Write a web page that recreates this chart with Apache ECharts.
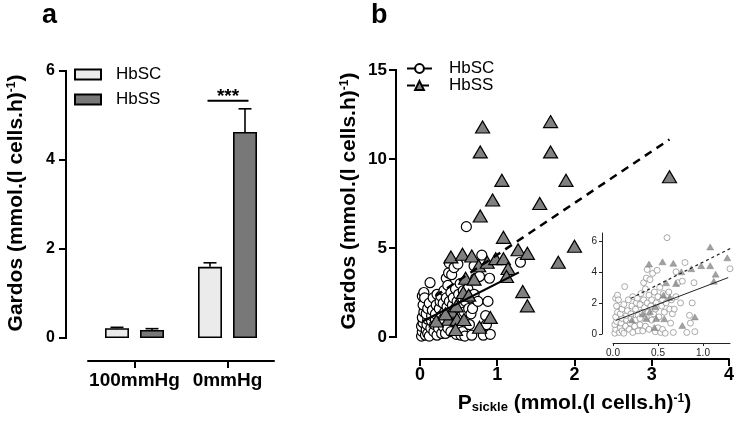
<!DOCTYPE html>
<html><head><meta charset="utf-8">
<script src="https://cdn.jsdelivr.net/npm/echarts@6/dist/echarts.min.js"></script>
<style>html,body{margin:0;padding:0;background:#fff}#c{width:737px;height:425px}</style>
</head><body><div id="c"></div>
<script>
// ---------- Panel a data ----------
const barCategories = ['100mmHg', '0mmHg'];
const hbscMean = [0.22, 1.60];
const hbscErr = [0.02, 0.09];
const hbssMean = [0.18, 4.63];
const hbssErr = [0.03, 0.52];
const sigLevel = 5.33;           // height of the *** bracket over 0mmHg
const sigText = '***';
const barYTicks = [0, 2, 4, 6];

// ---------- Panel b data ----------
const scatterHbSC = [
  [0.02,0.05],[0.03,0.3],[0.02,0.6],[0.04,0.8],[0.03,1.1],[0.05,1.4],[0.04,1.8],[0.03,2.3],[0.05,2.5],[0.06,2.2],
  [0.07,0.1],[0.08,0.4],[0.1,0.2],[0.09,0.7],[0.1,1.0],[0.08,1.3],[0.1,1.6],[0.12,1.9],[0.13,3.05],[0.12,0.05],
  [0.14,0.5],[0.15,0.9],[0.15,1.2],[0.16,1.5],[0.17,2.2],[0.18,0.3],[0.19,0.7],[0.2,1.0],[0.2,1.3],[0.21,1.8],
  [0.22,2.4],[0.22,0.1],[0.24,0.5],[0.25,0.9],[0.25,1.6],[0.26,2.0],[0.27,2.3],[0.28,0.2],[0.28,1.2],[0.3,0.6],
  [0.3,1.0],[0.3,1.9],[0.31,2.6],[0.32,1.4],[0.33,0.2],[0.34,2.2],[0.34,3.3],[0.35,1.7],[0.36,0.5],[0.36,2.9],
  [0.37,3.6],[0.37,1.1],[0.38,2.0],[0.38,4.15],[0.39,1.4],[0.4,0.3],[0.4,2.5],[0.41,3.5],[0.42,1.8],[0.43,0.9],
  [0.43,2.2],[0.44,3.9],[0.45,1.3],[0.46,2.7],[0.47,0.15],[0.47,1.6],[0.48,2.0],[0.49,4.1],[0.5,0.4],[0.5,2.4],
  [0.51,1.1],[0.52,3.0],[0.53,0.1],[0.54,1.8],[0.55,0.3],[0.55,2.2],[0.56,2.6],[0.57,1.4],[0.58,0.05],[0.59,2.0],
  [0.6,6.2],[0.6,2.5],[0.62,2.7],[0.63,1.6],[0.64,0.7],[0.65,2.2],[0.66,1.3],[0.67,0.1],[0.68,1.6],[0.7,4.0],
  [0.7,2.4],[0.72,3.3],[0.75,2.0],[0.77,3.4],[0.8,4.6],[0.82,0.1],[0.85,1.2],[0.86,0.7],[0.88,2.0],[0.9,3.3],
  [0.91,0.15],[1.3,4.2]
];
const scatterHbSS = [
  [0.81,11.8],[0.78,10.4],[1.69,12.1],[1.69,10.4],[1.06,8.8],[1.89,8.8],[0.94,7.7],[1.55,7.5],[0.78,6.8],[3.23,9.0],
  [1.08,5.6],[2.0,5.1],[1.27,4.9],[1.39,4.7],[1.79,4.2],[0.40,4.5],[0.55,4.65],[0.67,4.55],[0.76,4.0],[0.87,4.2],
  [0.98,4.4],[1.08,4.4],[1.14,3.85],[1.12,3.4],[1.33,2.55],[1.39,1.75],[0.59,3.3],[0.70,3.25],[0.56,2.5],[0.63,2.35],
  [0.41,1.45],[0.37,1.0],[0.48,1.0],[0.57,0.98],[0.47,1.75],[0.91,1.1],[0.77,0.55],[0.46,0.42],[0.21,0.9],[0.33,1.3]
];
const fitHbSC = [[0.03,0.87],[1.28,3.63]];
const fitHbSS = [[0.2,2.3],[3.23,11.1]];
const mainYTicks = [0, 5, 10, 15];
const insetXTicks = [0, 0.5, 1.0];
const insetYTicks = [0, 2, 4, 6];

// ---------- styling ----------
const FONT = 'Liberation Sans, Arial, sans-serif';
const LIGHT = '#ebebeb', DARK = '#787878', TRI = '#808080';
const BAR_W = 24, BAR_GAP = 11;
const half = (BAR_W + BAR_GAP) / 2;
const Y_OFF_A = 22, Y_OFF_B = 24, TICK_LEN = 7;

function errRender(offset) {
  return function (params, api) {
    const c = api.coord([api.value(0), api.value(1)]);
    const t = api.coord([api.value(0), api.value(1) + api.value(2)]);
    const x = c[0] + offset;
    return { type: 'group', children: [
      { type: 'line', shape: { x1: x, y1: c[1], x2: x, y2: t[1] }, style: { stroke: '#000', lineWidth: 1.6 } },
      { type: 'line', shape: { x1: x - 6.5, y1: t[1], x2: x + 6.5, y2: t[1] }, style: { stroke: '#000', lineWidth: 1.6 } }
    ]};
  };
}

// y axis line + ticks drawn through the axis scale (line placed `off` px left of the grid)
function yAxisRender(off, ticks) {
  return function (params, api) {
    const cs = params.coordSys;
    const xl = cs.x - off;
    const p = api.coord([0, api.value(1)]);
    const children = [
      { type: 'line', shape: { x1: xl - TICK_LEN, y1: p[1], x2: xl, y2: p[1] }, style: { stroke: '#000', lineWidth: 2 } }
    ];
    if (params.dataIndex === 0) {
      const lo = api.coord([0, ticks[0]]), hi = api.coord([0, ticks[ticks.length - 1]]);
      children.push({ type: 'line', shape: { x1: xl, y1: lo[1] + 1, x2: xl, y2: hi[1] - 1 },
        style: { stroke: '#000', lineWidth: 2 } });
    }
    return { type: 'group', children: children };
  };
}

const richZ = {
  t: { fontSize: 21, fontWeight: 'bold', fontFamily: FONT, fill: '#000' },
  s: { fontSize: 12, fontWeight: 'bold', fontFamily: FONT, fill: '#000', verticalAlign: 'top' }
};
const boldTitleRich = {
  t: { fontSize: 21, fontWeight: 'bold', fontFamily: FONT, color: '#000' },
  s: { fontSize: 12, fontWeight: 'bold', fontFamily: FONT, color: '#000', verticalAlign: 'top' },
  b: { fontSize: 13, fontWeight: 'bold', fontFamily: FONT, color: '#000', verticalAlign: 'bottom' }
};
const yTitle = '{t|Gardos (mmol.(l cells.h)}{s|-1}{t|)}';
const xTitleB = '{t|P}{b|sickle}{t| (mmol.(l cells.h)}{s|-1}{t|)}';

function axisBlack() { return { show: true, onZero: false, lineStyle: { color: '#000', width: 2 } }; }
function tickBlack(extra) { return Object.assign({ show: true, length: 7, inside: false, lineStyle: { color: '#000', width: 2 } }, extra || {}); }
function insetLine() { return { show: true, onZero: false, lineStyle: { color: '#222', width: 1 } }; }

const chart = echarts.init(document.getElementById('c'), null, { renderer: 'canvas' });
chart.setOption({
  backgroundColor: '#fff',
  animation: false,
  graphic: [
    { type: 'text', left: 42, top: 2, style: { text: 'a', font: 'bold 27px ' + FONT, fill: '#000' } },
    { type: 'text', left: 371, top: 2, style: { text: 'b', font: 'bold 27px ' + FONT, fill: '#000' } },
    { type: 'text', x: 16, y: 203, rotation: Math.PI / 2,
      style: { text: yTitle, rich: richZ, align: 'center', verticalAlign: 'middle' } },
    { type: 'text', x: 349, y: 201, rotation: Math.PI / 2,
      style: { text: yTitle, rich: richZ, align: 'center', verticalAlign: 'middle' } }
  ],
  legend: [
    { data: ['HbSC', 'HbSS'], orient: 'vertical', left: 74, top: 66, padding: 0, itemGap: 8,
      itemWidth: 26, itemHeight: 10, icon: 'rect',
      textStyle: { fontSize: 17, fontFamily: FONT, color: '#000', padding: [0, 0, 0, 10] } },
    { data: ['HbSC (b)', 'HbSS (b)'], orient: 'vertical', left: 406, top: 60, padding: 0, itemGap: 0,
      itemWidth: 25, itemHeight: 11, formatter: n => n.replace(' (b)', ''),
      textStyle: { fontSize: 17, fontFamily: FONT, color: '#000', padding: [0, 0, 0, 12] } }
  ],
  grid: [
    { left: 88, top: 71, width: 186, height: 267, containLabel: false },
    { left: 420, top: 70, width: 310, height: 267, containLabel: false },
    { left: 613, top: 233, width: 117, height: 101, containLabel: false }
  ],
  xAxis: [
    { type: 'category', gridIndex: 0, data: barCategories, offset: 23,
      axisLine: axisBlack(), axisTick: tickBlack({ alignWithLabel: true, interval: 0 }),
      axisLabel: { fontSize: 19, fontWeight: 'bold', fontFamily: FONT, color: '#000', margin: 10, interval: 0,
        hideOverlap: false } },
    { type: 'value', gridIndex: 1, min: 0, max: 4, interval: 1, offset: 22,
      axisLine: axisBlack(), axisTick: tickBlack(), splitLine: { show: false },
      axisLabel: { fontSize: 18, fontWeight: 'bold', fontFamily: FONT, color: '#000', margin: 7 },
      name: xTitleB, nameLocation: 'middle', nameGap: 34, nameTextStyle: { rich: boldTitleRich } },
    { type: 'value', gridIndex: 2, min: 0, max: 1.3, offset: 9,
      axisLine: insetLine(),
      axisTick: { show: true, length: 3, lineStyle: { color: '#222', width: 1 }, customValues: insetXTicks },
      splitLine: { show: false },
      axisLabel: { fontSize: 10, fontFamily: FONT, color: '#222', margin: 5, customValues: insetXTicks,
        formatter: v => v.toFixed(1) } }
  ],
  yAxis: [
    { type: 'value', gridIndex: 0, min: 0, max: 6, interval: 2, offset: Y_OFF_A,
      axisLine: { show: false, onZero: false }, axisTick: { show: false }, splitLine: { show: false },
      axisLabel: { fontSize: 16, fontWeight: 'bold', fontFamily: FONT, color: '#000', margin: 11 } },
    { type: 'value', gridIndex: 1, min: 0, max: 15, interval: 5, offset: Y_OFF_B,
      axisLine: { show: false, onZero: false }, axisTick: { show: false }, splitLine: { show: false },
      axisLabel: { fontSize: 17, fontWeight: 'bold', fontFamily: FONT, color: '#000', margin: 9 } },
    { type: 'value', gridIndex: 2, min: 0, max: 6.5, offset: 11,
      axisLine: insetLine(),
      axisTick: { show: true, length: 3, lineStyle: { color: '#222', width: 1 }, customValues: insetYTicks },
      splitLine: { show: false },
      axisLabel: { fontSize: 10, fontFamily: FONT, color: '#222', margin: 5, customValues: insetYTicks } }
  ],
  series: [
    // ---- y axis lines / ticks (drawn through the scales) ----
    { type: 'custom', xAxisIndex: 0, yAxisIndex: 0, z: 6, clip: false, silent: true,
      renderItem: yAxisRender(Y_OFF_A, barYTicks), data: barYTicks.map(v => [0, v]) },
    { type: 'custom', xAxisIndex: 1, yAxisIndex: 1, z: 6, clip: false, silent: true,
      renderItem: yAxisRender(Y_OFF_B, mainYTicks), data: mainYTicks.map(v => [0, v]) },
    // ---- panel a ----
    { name: 'HbSC', type: 'bar', xAxisIndex: 0, yAxisIndex: 0, data: hbscMean, barWidth: BAR_W,
      barGap: (BAR_GAP / BAR_W * 100) + '%',
      itemStyle: { color: LIGHT, borderColor: '#000', borderWidth: 1.6 } },
    { name: 'HbSS', type: 'bar', xAxisIndex: 0, yAxisIndex: 0, data: hbssMean, barWidth: BAR_W,
      barGap: (BAR_GAP / BAR_W * 100) + '%',
      itemStyle: { color: DARK, borderColor: '#000', borderWidth: 1.6 } },
    { type: 'custom', xAxisIndex: 0, yAxisIndex: 0, z: 5, renderItem: errRender(-half),
      data: hbscMean.map((m, i) => [i, m, hbscErr[i]]) },
    { type: 'custom', xAxisIndex: 0, yAxisIndex: 0, z: 5, renderItem: errRender(half),
      data: hbssMean.map((m, i) => [i, m, hbssErr[i]]) },
    { type: 'custom', xAxisIndex: 0, yAxisIndex: 0, z: 5,
      data: [[1, sigLevel]],
      renderItem: function (params, api) {
        const p = api.coord([api.value(0), api.value(1)]);
        return { type: 'group', children: [
          { type: 'line', shape: { x1: p[0] - half - 2.5, y1: p[1], x2: p[0] + half + 3.5, y2: p[1] },
            style: { stroke: '#000', lineWidth: 2 } },
          { type: 'text', x: p[0] + 0.5, y: p[1] - 4, style: { text: sigText, font: 'bold 19px ' + FONT,
            fill: '#000', align: 'center', verticalAlign: 'middle' } }
        ]};
      } },
    // ---- panel b main ----
    { name: 'HbSC pts', type: 'scatter', xAxisIndex: 1, yAxisIndex: 1, data: scatterHbSC, symbol: 'circle',
      symbolSize: 10, z: 2, itemStyle: { color: '#fff', borderColor: '#000', borderWidth: 1.2, opacity: 1 } },
    { name: 'HbSS pts', type: 'scatter', xAxisIndex: 1, yAxisIndex: 1, data: scatterHbSS, symbol: 'triangle',
      symbolSize: [14, 12], z: 3, itemStyle: { color: TRI, borderColor: '#000', borderWidth: 1.2, opacity: 1 } },
    { name: 'HbSC (b)', type: 'line', xAxisIndex: 1, yAxisIndex: 1, data: fitHbSC, showSymbol: false,
      symbol: 'circle', z: 4, lineStyle: { color: '#000', width: 2.2 },
      itemStyle: { color: '#fff', borderColor: '#000', borderWidth: 1.2 } },
    { name: 'HbSS (b)', type: 'line', xAxisIndex: 1, yAxisIndex: 1, data: fitHbSS, showSymbol: false,
      symbol: 'triangle', z: 4, lineStyle: { color: '#000', width: 2.5, type: [8, 6] },
      itemStyle: { color: TRI, borderColor: '#000', borderWidth: 1 } },
    // ---- panel b inset ----
    { type: 'scatter', xAxisIndex: 2, yAxisIndex: 2, data: scatterHbSC, symbol: 'circle', symbolSize: 6, z: 2,
      clip: true, itemStyle: { color: '#fff', borderColor: '#8a8a8a', borderWidth: 0.9 } },
    { type: 'scatter', xAxisIndex: 2, yAxisIndex: 2, data: scatterHbSS, symbol: 'triangle', symbolSize: [7, 6], z: 3,
      clip: true, itemStyle: { color: '#8a8a8a', borderColor: '#777', borderWidth: 0.5 } },
    { type: 'line', xAxisIndex: 2, yAxisIndex: 2, data: fitHbSC, showSymbol: false, clip: true, z: 4,
      lineStyle: { color: '#222', width: 1 } },
    { type: 'line', xAxisIndex: 2, yAxisIndex: 2, data: fitHbSS, showSymbol: false, clip: true, z: 4,
      lineStyle: { color: '#222', width: 1.2, type: [3, 3] } }
  ]
});
</script></body></html>
